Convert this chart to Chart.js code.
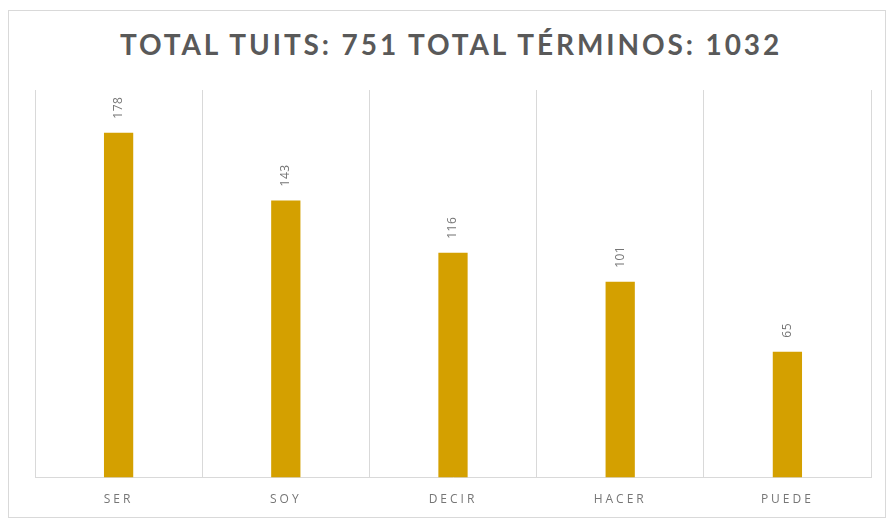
<!DOCTYPE html>
<html>
<head>
<meta charset="utf-8">
<script src="https://cdn.jsdelivr.net/npm/chart.js@4/dist/chart.umd.min.js"></script>
<style>
  html, body { margin: 0; padding: 0; background: #fff; }
  #wrap { position: relative; width: 888px; height: 527px; overflow: hidden; }
  #frame { position: absolute; left: 8px; top: 10px; width: 878px; height: 508px;
           border: 1.5px solid #d9d9d9; box-sizing: border-box; }
  #title { position: absolute; left: 0; width: 902px; top: 28px; text-align: center;
           font: bold 28px Lato, sans-serif; line-height: 32px; color: #595959; letter-spacing: 2.9px; }
  canvas { position: absolute; left: 0; top: 0; }
</style>
</head>
<body>
<div id="wrap">
  <div id="frame"></div>
  <div id="title">TOTAL TUITS: 751 TOTAL TÉRMINOS: 1032</div>
  <canvas id="c" width="888" height="527"></canvas>
</div>
<script>
const terms = ['SER', 'SOY', 'DECIR', 'HACER', 'PUEDE'];
const counts = [178, 143, 116, 101, 65];

const gold = '#d4a000';
const gridGray = '#d9d9d9';
const textGray = '#767676';

// data labels drawn rotated above each bar
const barLabels = {
  id: 'barLabels',
  afterDatasetsDraw(chart) {
    const { ctx } = chart;
    const meta = chart.getDatasetMeta(0);
    ctx.save();
    ctx.fillStyle = textGray;
    ctx.font = '12px "Open Sans", sans-serif';
    ctx.letterSpacing = '0.5px';
    ctx.textAlign = 'left';
    ctx.textBaseline = 'middle';
    meta.data.forEach((bar, i) => {
      ctx.save();
      ctx.translate(bar.x, bar.y - 14);
      ctx.rotate(-Math.PI / 2);
      ctx.fillText(String(counts[i]), 0, 0);
      ctx.restore();
    });
    ctx.restore();
  },
};

// spaced-out axis text like the original
const spacing = {
  id: 'spacing',
  beforeDraw(chart) {
    chart.ctx.letterSpacing = '3px';
  },
};

new Chart(document.getElementById('c'), {
  type: 'bar',
  data: {
    labels: terms,
    datasets: [
      {
        data: counts,
        backgroundColor: gold,
        borderWidth: 0,
        categoryPercentage: 1,
        barPercentage: 0.175,
      },
    ],
  },
  options: {
    responsive: false,
    animation: false,
    layout: { padding: { left: 35, right: 17, top: 90, bottom: 5 } },
    plugins: {
      legend: { display: false },
      tooltip: { enabled: false },
    },
    scales: {
      x: {
        grid: { color: gridGray, lineWidth: 1, drawTicks: false, offset: true },
        border: { color: gridGray, width: 1 },
        ticks: { color: textGray, font: { family: 'Open Sans', size: 12 }, padding: 15 },
      },
      y: {
        display: false,
        min: 0,
        max: 200,
      },
    },
  },
  plugins: [barLabels, spacing],
});
</script>
</body>
</html>
